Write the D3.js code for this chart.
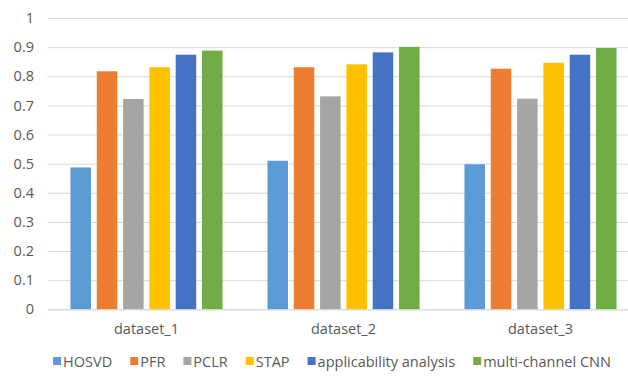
<!DOCTYPE html>
<html>
<head>
<meta charset="utf-8">
<script src="https://cdn.jsdelivr.net/npm/d3@7"></script>
<style>
  html, body { margin: 0; padding: 0; background: #fff; }
  svg { display: block; }
  text { font-family: "Open Sans", "Noto Sans", sans-serif; fill: #595959; }
</style>
</head>
<body>
<svg id="chart" width="628" height="378"></svg>
<script>
// Accuracy of each method on the three datasets
const categories = ["dataset_1", "dataset_2", "dataset_3"];
const methods = ["HOSVD", "PFR", "PCLR", "STAP", "applicability analysis", "multi-channel CNN"];
const colors = ["#5B9BD5", "#ED7D31", "#A5A5A5", "#FFC000", "#4472C4", "#70AD47"];
const hosvd = [0.487, 0.510, 0.498];
const pfr = [0.817, 0.831, 0.826];
const pclr = [0.722, 0.731, 0.723];
const stap = [0.831, 0.841, 0.846];
const applicability = [0.874, 0.882, 0.874];
const cnn = [0.888, 0.901, 0.897];
const yTicks = [0, 0.1, 0.2, 0.3, 0.4, 0.5, 0.6, 0.7, 0.8, 0.9, 1];

const seriesValues = [hosvd, pfr, pclr, stap, applicability, cnn];

const svg = d3.select("#chart");
const plotLeft = 48, plotRight = 639, plotTop = 18, plotBottom = 309.3;

const y = d3.scaleLinear().domain([0, 1]).range([plotBottom, plotTop]);
const x0 = d3.scaleBand().domain(categories).range([plotLeft, plotRight])
  .paddingInner(0.228).paddingOuter(0.114);
const x1 = d3.scaleBand().domain(methods).range([0, x0.bandwidth()])
  .paddingInner(0.22).paddingOuter(0);
const color = d3.scaleOrdinal().domain(methods).range(colors);

// Horizontal gridlines and tick labels
const yAxis = d3.axisLeft(y).tickValues(yTicks).tickSize(-(plotRight - plotLeft))
  .tickFormat(d => d3.format("~g")(d)).tickPadding(14);
const gy = svg.append("g").attr("transform", `translate(${plotLeft},0)`).call(yAxis);
gy.select(".domain").remove();
gy.selectAll(".tick line").attr("stroke", "#d9d9d9").attr("stroke-width", 1);
gy.selectAll(".tick text").attr("font-size", 14.5).attr("fill", "#595959")
  .style("font-family", '"Open Sans", "Noto Sans", sans-serif');

// Bars
const groups = svg.append("g").selectAll("g").data(categories).join("g")
  .attr("transform", d => `translate(${x0(d)},0)`);
groups.selectAll("rect")
  .data((c, ci) => methods.map((m, mi) => ({ m, v: seriesValues[mi][ci] })))
  .join("rect")
  .attr("x", d => x1(d.m))
  .attr("width", x1.bandwidth())
  .attr("y", d => y(d.v))
  .attr("height", d => y(0) - y(d.v))
  .attr("fill", d => color(d.m));

// Category axis
const xAxis = d3.axisBottom(x0).tickSize(0).tickPadding(14);
const gx = svg.append("g").attr("transform", `translate(0,${plotBottom})`).call(xAxis);
gx.select(".domain").attr("stroke", "#d9d9d9");
gx.selectAll(".tick text").attr("font-size", 14.5).attr("fill", "#595959")
  .style("font-family", '"Open Sans", "Noto Sans", sans-serif');

// Legend, centred under the plot
const legendGap = 18;
const legend = svg.append("g");
const items = legend.selectAll("g").data(methods).join("g");
items.append("rect").attr("width", 8).attr("height", 8).attr("y", -5)
  .attr("fill", d => color(d));
items.append("text").attr("x", 10).attr("y", 0).attr("dy", "0.35em")
  .attr("font-size", 14.5).text(d => d);
let cursor = 0;
items.each(function () {
  const w = this.querySelector("text").getComputedTextLength();
  d3.select(this).attr("transform", `translate(${cursor},0)`);
  cursor += 10 + w + legendGap;
});
const legendWidth = cursor - legendGap;
legend.attr("transform", `translate(${332 - legendWidth / 2},362)`);
</script>
</body>
</html>
